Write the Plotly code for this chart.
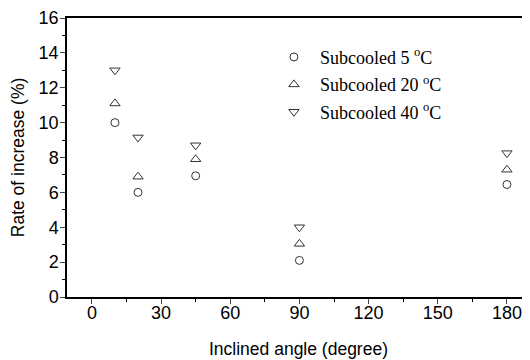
import plotly.graph_objects as go

angles = [10, 20, 45, 90, 180]
sub5 = [10.0, 6.0, 6.95, 2.1, 6.45]
sub20 = [11.1, 6.9, 7.9, 3.05, 7.3]
sub40 = [13.0, 9.15, 8.7, 4.0, 8.25]
series_names = ["Subcooled 5 <sup>o</sup>C", "Subcooled 20 <sup>o</sup>C", "Subcooled 40 <sup>o</sup>C"]
x_ticks = [0, 30, 60, 90, 120, 150, 180]
y_ticks = [0, 2, 4, 6, 8, 10, 12, 14, 16]

symbols = ["circle-open", "triangle-up-open", "triangle-down-open"]
sizes = [8, 9, 9]
fig = go.Figure()
for i, (vals, name) in enumerate(zip([sub5, sub20, sub40], series_names)):
    fig.add_trace(go.Scatter(
        x=angles, y=vals, mode="markers", name=name, legendgroup=str(i),
        marker=dict(symbol=symbols[i], size=sizes[i], color="#333333", line=dict(width=1, color="#333333")),
    ))

tick_font = dict(family="Liberation Sans, Arial", size=18, color="black")
title_font = dict(family="Liberation Sans, Arial", size=17.5, color="black")
# the page body has an 8px default margin, so the figure is laid out 8px up/left
fig.update_layout(
    width=530, height=360,
    margin=dict(l=59, r=8, t=10, b=71),
    paper_bgcolor="white", plot_bgcolor="white",
    font=tick_font,
    legend=dict(
        x=0.434, y=0.9255, xanchor="left", yanchor="top",
        font=dict(family="Liberation Serif, Times New Roman", size=18, color="black"),
        tracegroupgap=1, itemwidth=42, bgcolor="rgba(0,0,0,0)",
    ),
    xaxis=dict(
        range=[-10.8, 190], tickvals=x_ticks, ticks="outside", ticklen=5, tickwidth=1,
        showline=True, linecolor="black", linewidth=1.5, mirror=True, showgrid=False, zeroline=False,
        minor=dict(dtick=15, tick0=0, ticks="outside", ticklen=3, tickcolor="black"),
        title=dict(text="Inclined angle (degree)", standoff=20, font=title_font),
        tickfont=tick_font, automargin=False, ticklabelstandoff=-6, ticklabeloverflow="allow",
    ),
    yaxis=dict(
        range=[0, 16], tickvals=y_ticks, ticks="outside", ticklen=5, tickwidth=1,
        showline=True, linecolor="black", linewidth=1.5, mirror=False, showgrid=False, zeroline=False,
        minor=dict(dtick=1, tick0=0, ticks="outside", ticklen=3, tickcolor="black"),
        title=dict(text="Rate of increase (%)", standoff=11, font=title_font),
        tickfont=tick_font, automargin=False, ticklabelstandoff=-2, ticklabeloverflow="allow",
    ),
)
fig.write_html("out.html")
